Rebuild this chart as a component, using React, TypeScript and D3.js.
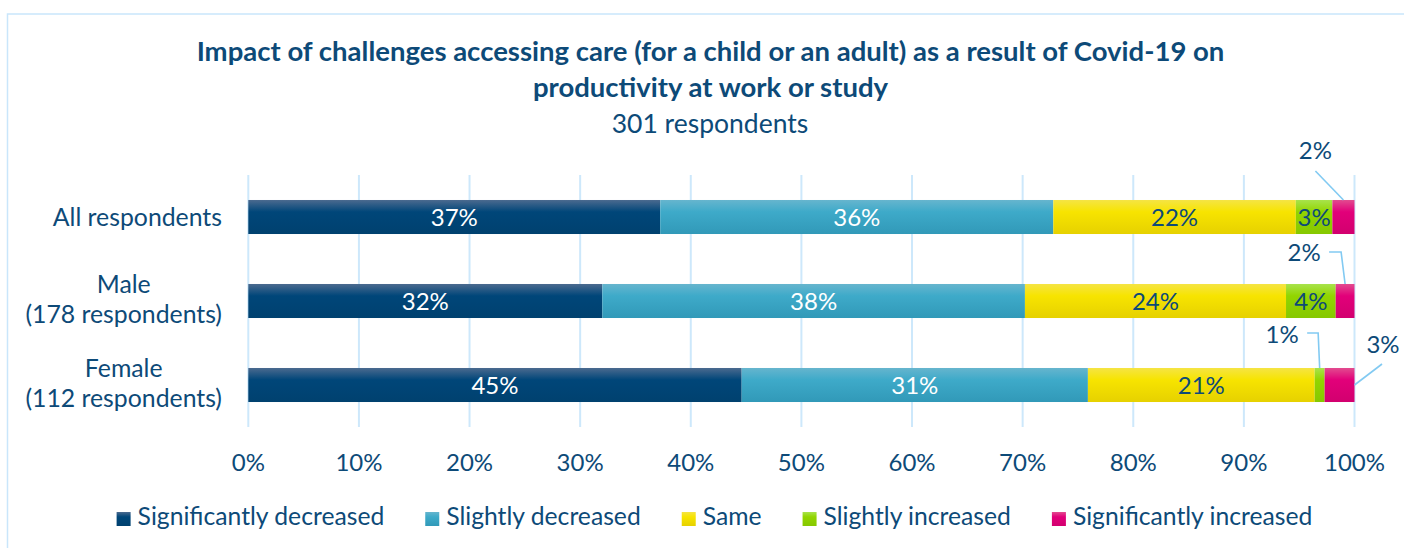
import React, { useEffect, useRef } from "react";
import * as d3 from "d3";

// ---------- data ----------
const categories = ["All respondents", "Male", "Female"];
const categoryLines = [["All respondents"], ["Male", "(178 respondents)"], ["Female", "(112 respondents)"]];
const seriesNames = [
  "Significantly decreased",
  "Slightly decreased",
  "Same",
  "Slightly increased",
  "Significantly increased",
];
const sigDecreased = [37.2, 32.0, 44.6];
const slightDecreased = [35.5, 38.2, 31.3];
const same = [21.9, 23.6, 20.5];
const slightIncreased = [3.3, 4.49, 0.9];
const sigIncreased = [2.0, 1.7, 2.7];
const seriesValues = [sigDecreased, slightDecreased, same, slightIncreased, sigIncreased];
const xTicks = [0, 0.1, 0.2, 0.3, 0.4, 0.5, 0.6, 0.7, 0.8, 0.9, 1];
const titleLines = [
  "Impact of challenges accessing care (for a child or an adult) as a result of Covid-19 on",
  "productivity at work or study",
];
const subtitle = "301 respondents";

// ---------- styles ----------
const FONT = "Lato, 'Open Sans', sans-serif";
const TEXT = "#0d4a78";
const GRID = "#cde8fb";
const LEADER = "#82caf2";
const gradients = [
  ["#4b6a8f", "#004679", "#00416f"],
  ["#66b5ce", "#3eaac9", "#3199b8"],
  ["#f5e444", "#f7e400", "#e6d100"],
  ["#a8e34c", "#92d500", "#86c800"],
  ["#e24b8f", "#e2007a", "#d2006f"],
];
const insideLabelColor = ["#ffffff", "#ffffff", TEXT, TEXT, TEXT];

// callout labels (row, series) with offsets relative to segment anchor
const callouts = [
  { row: 0, series: 4, anchor: "top", dx: -28, dy: -41, path: [[-28, -29], [0, 0]] },
  { row: 1, series: 4, anchor: "top", dx: -41, dy: -23, path: [[-16, -32], [-4, -32], [0, 0]] },
  { row: 2, series: 3, anchor: "top", dx: -37.5, dy: -25, path: [[-12.5, -35], [-1.5, -35], [0, 0]] },
  { row: 2, series: 4, anchor: "right", dx: 28.5, dy: -32, path: [[27.5, -21], [0, 0]] },
];

const W = 1404;
const H = 548;
const LABEL_SIZE = 24;

export default function App() {
  const ref = useRef<SVGSVGElement | null>(null);

  useEffect(() => {
    const svg = d3.select(ref.current);
    svg.selectAll("*").remove();

    const x = d3.scaleLinear().domain([0, 1]).range([248.3, 1354.5]);
    const y = d3
      .scaleBand<string>()
      .domain(categories)
      .range([175, 427])
      .paddingInner(0.595)
      .paddingOuter(0.2975);

    const rows = categories.map((c, i) => {
      const r: any = { category: c };
      seriesNames.forEach((s, k) => (r[s] = seriesValues[k][i]));
      return r;
    });
    const stacked = d3.stack<any>().keys(seriesNames).offset(d3.stackOffsetExpand)(rows);
    const fmt = d3.format(".0%");

    const defs = svg.append("defs");
    gradients.forEach((g, k) => {
      const lg = defs
        .append("linearGradient")
        .attr("id", `grad${k}`)
        .attr("x1", 0)
        .attr("y1", 0)
        .attr("x2", 0)
        .attr("y2", 1);
      lg.append("stop").attr("offset", "0%").attr("stop-color", g[0]);
      lg.append("stop").attr("offset", "35%").attr("stop-color", g[1]);
      lg.append("stop").attr("offset", "100%").attr("stop-color", g[2]);
    });

    svg.append("rect").attr("width", W).attr("height", H).attr("fill", "#ffffff");
    // frame
    svg
      .append("rect")
      .attr("x", 7.5)
      .attr("y", 14)
      .attr("width", W + 20)
      .attr("height", H + 20)
      .attr("fill", "none")
      .attr("stroke", "#c9e6fb")
      .attr("stroke-width", 1.5);

    // title
    const title = svg.append("g").attr("font-family", FONT).attr("fill", TEXT).attr("text-anchor", "middle");
    titleLines.forEach((t, i) => {
      title
        .append("text")
        .attr("x", 710.5)
        .attr("y", 61 + i * 36)
        .attr("font-size", 27.5)
        .attr("font-weight", 700)
        .text(t);
    });
    title.append("text").attr("x", 710).attr("y", 133).attr("font-size", 26.5).text(subtitle);

    // grid
    svg
      .append("g")
      .selectAll("line")
      .data(xTicks)
      .join("line")
      .attr("x1", (d) => x(d))
      .attr("x2", (d) => x(d))
      .attr("y1", 175)
      .attr("y2", 427)
      .attr("stroke", GRID)
      .attr("stroke-width", 2);

    // tick labels
    svg
      .append("g")
      .attr("font-family", FONT)
      .attr("font-size", LABEL_SIZE)
      .attr("fill", TEXT)
      .attr("text-anchor", "middle")
      .selectAll("text")
      .data(xTicks)
      .join("text")
      .attr("x", (d) => x(d))
      .attr("y", 471)
      .text((d) => fmt(d));

    // category labels
    const catG = svg.append("g").attr("font-family", FONT).attr("font-size", 24.8).attr("fill", TEXT);
    categoryLines.forEach((lines, i) => {
      const cy = (y(categories[i]) as number) + y.bandwidth() / 2;
      const g = catG.append("g");
      const n = lines.length;
      const texts = lines.map((l, j) =>
        g
          .append("text")
          .attr("y", n === 1 ? cy + 8.5 : cy - 8 + j * 29.5)
          .attr("text-anchor", "middle")
          .text(l)
      );
      const maxW = d3.max(texts, (t) => (t.node() as SVGTextElement).getComputedTextLength()) || 0;
      texts.forEach((t) => t.attr("x", 222 - maxW / 2));
    });

    // bars
    const barsG = svg.append("g");
    stacked.forEach((layer, k) => {
      barsG
        .append("g")
        .attr("fill", `url(#grad${k})`)
        .selectAll("rect")
        .data(layer)
        .join("rect")
        .attr("x", (d) => x(d[0]))
        .attr("width", (d) => x(d[1]) - x(d[0]))
        .attr("y", (d) => y(d.data.category) as number)
        .attr("height", y.bandwidth());
    });

    // labels
    const lblG = svg.append("g").attr("font-family", FONT).attr("font-size", LABEL_SIZE).attr("text-anchor", "middle");
    stacked.forEach((layer, k) => {
      layer.forEach((d, i) => {
        const v = seriesValues[k][i] / 100;
        const co = callouts.find((c) => c.row === i && c.series === k);
        const top = y(d.data.category) as number;
        if (!co) {
          lblG
            .append("text")
            .attr("x", (x(d[0]) + x(d[1])) / 2)
            .attr("y", top + y.bandwidth() / 2 + 9)
            .attr("fill", insideLabelColor[k])
            .text(fmt(v));
        } else {
          const ax = co.anchor === "top" ? (x(d[0]) + x(d[1])) / 2 : x(d[1]);
          const ay = co.anchor === "top" ? top : top + y.bandwidth() / 2;
          const line = d3.line();
          lblG
            .append("path")
            .attr("d", line(co.path.map((p) => [ax + p[0], ay + p[1]]) as [number, number][]))
            .attr("fill", "none")
            .attr("stroke", LEADER)
            .attr("stroke-width", 1.6);
          lblG
            .append("text")
            .attr("x", ax + co.dx)
            .attr("y", ay + co.dy)
            .attr("fill", TEXT)
            .text(fmt(v));
        }
      });
    });

    // legend
    const legG = svg.append("g").attr("font-family", FONT).attr("font-size", 24.7).attr("fill", TEXT);
    const items = seriesNames.map((s, k) => {
      const g = legG.append("g");
      g.append("rect").attr("width", 14).attr("height", 14).attr("y", 512).attr("fill", `url(#grad${k})`);
      const t = g.append("text").attr("y", 525).attr("x", 21).text(s);
      const w = (t.node() as SVGTextElement).getComputedTextLength();
      return { g, w: 21 + w };
    });
    const gap = 41;
    const total = d3.sum(items, (d) => d.w) + gap * (items.length - 1);
    let cx = 714.5 - total / 2;
    items.forEach((it) => {
      it.g.attr("transform", `translate(${cx},0)`);
      cx += it.w + gap;
    });
  }, []);

  return (
    <svg
      ref={ref}
      width={W}
      height={H}
      style={{ position: "absolute", left: 0, top: 0, display: "block" }}
    />
  );
}
